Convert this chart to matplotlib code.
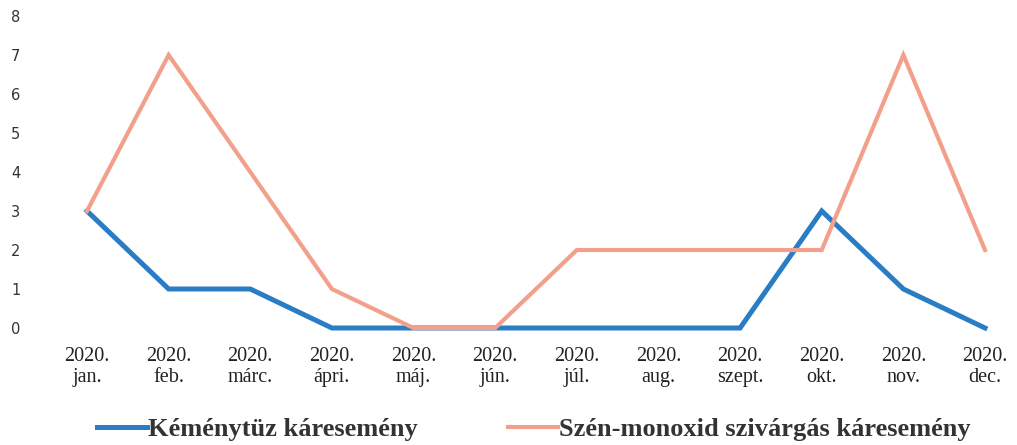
import numpy as np
import matplotlib.pyplot as plt

# havi adatok 2020
honapok = ["jan.", "feb.", "márc.", "ápri.", "máj.", "jún.", "júl.", "aug.",
           "szept.", "okt.", "nov.", "dec."]
kemenytuz = [3, 1, 1, 0, 0, 0, 0, 0, 0, 3, 1, 0]
szenmonoxid = [3, 7, 4, 1, 0, 0, 2, 2, 2, 2, 7, 2]
cimkek = ["2020.\n" + h for h in honapok]
yticks = [0, 1, 2, 3, 4, 5, 6, 7, 8]

fig = plt.figure(figsize=(10.17, 4.45), dpi=100)
ax = fig.add_axes([87 / 1017, 117 / 445, 898 / 1017, 312 / 445])

x = np.arange(len(honapok))
ax.plot(x, kemenytuz, color="#2a7dc4", lw=3.6, solid_joinstyle="miter",
        clip_on=False, label="Kéménytüz káresemény")
ax.plot(x, szenmonoxid, color="#f2a08b", lw=3.0, solid_joinstyle="miter",
        clip_on=False, label="Szén-monoxid szivárgás káresemény")

ax.set_xlim(0, 11)
ax.set_ylim(0, 8)
ax.set_xticks(x)
ax.set_xticklabels(cimkek, family="Liberation Serif", fontsize=14.5,
                   color="#222222", linespacing=1.1)
ax.set_yticks(yticks)
ax.set_yticklabels([str(v) for v in yticks], fontsize=10.5, color="#333333")
ax.tick_params(axis="x", length=0, pad=14)
ax.tick_params(axis="y", length=0, pad=48)
for s in ax.spines.values():
    s.set_visible(False)

leg = fig.legend(loc="lower center", bbox_to_anchor=(534 / 1017, -0.045), ncol=2,
                 frameon=False, handlelength=1.9, handletextpad=0.05,
                 columnspacing=3.4,
                 prop={"family": "Liberation Serif", "weight": "bold", "size": 19})
for t in leg.get_texts():
    t.set_color("#333333")

fig.savefig("out.png", dpi=100)
